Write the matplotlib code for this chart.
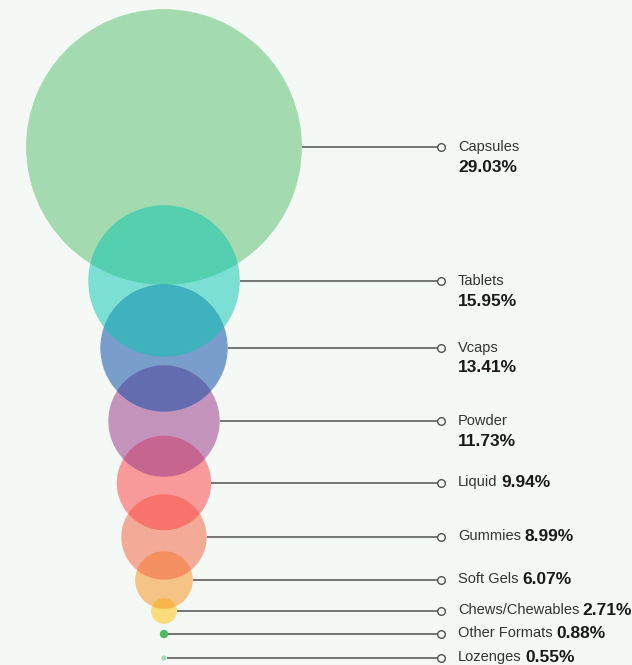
import matplotlib
matplotlib.use("Agg")
import matplotlib.pyplot as plt
from matplotlib.patches import Circle

# data (share in %)
formats = ["Capsules", "Tablets", "Vcaps", "Powder", "Liquid", "Gummies",
           "Soft Gels", "Chews/Chewables", "Other Formats", "Lozenges"]
shares = [29.03, 15.95, 13.41, 11.73, 9.94, 8.99, 6.07, 2.71, 0.88, 0.55]

# layout / style
row_y = [147, 281, 348, 421, 483, 537, 580, 611, 634, 658]
colors = ["#55bd6c", "#05c7b2", "#0145a2", "#953186", "#fd3d40", "#f35f3a",
          "#f78f1a", "#ffc300", "#4cbb5c", "#55bd6c"]
alphas = [0.5] * 8 + [1.0, 0.5]
stacked = [True, True, True, True] + [False] * 6
px_per_pct = 4.75
cx = 164
mark_x = 441
text_x = 458
bg = "#f5f9f6"

plt.rcParams["font.family"] = ["Liberation Sans", "DejaVu Sans"]

fig = plt.figure(figsize=(6.32, 6.65), dpi=100, facecolor=bg)
ax = fig.add_axes([0, 0, 1, 1])
ax.set_facecolor(bg)
ax.set_xlim(0, 632)
ax.set_ylim(665, 0)
ax.axis("off")

# capsules at the back, then bigger circles over smaller ones
n = len(shares)
for i in range(n):
    r = shares[i] * px_per_pct
    z = 1 if i == 0 else 2 + (n - i)
    ax.add_patch(Circle((cx, row_y[i]), r, facecolor=colors[i],
                        alpha=alphas[i], edgecolor="none", zorder=z))

for i in range(n):
    r = shares[i] * px_per_pct
    y = row_y[i]
    ax.plot([cx + r, mark_x - 3], [y, y], color="#505050", lw=1.1, zorder=20,
            solid_capstyle="butt")
    ax.plot(mark_x, y, marker="o", ms=5.5, mfc=bg, mec="#505050", mew=1.0,
            zorder=21)
    pct = f"{shares[i]:.2f}%"
    if stacked[i]:
        ax.text(text_x, y, formats[i], fontsize=10.5, color="#333333",
                va="center", ha="left")
        ax.text(text_x, y + 20, pct, fontsize=12.5, color="#1a1a1a",
                fontweight="bold", va="center", ha="left")
    else:
        t = ax.text(text_x, y - 1, formats[i], fontsize=10.5, color="#333333",
                    va="center", ha="left")
        ax.annotate(pct, xy=(1, 0), xycoords=t, xytext=(2.5, -0.5),
                    textcoords="offset points", fontsize=12.5,
                    color="#1a1a1a", fontweight="bold", va="bottom",
                    ha="left")

fig.savefig("out.png", dpi=100, facecolor=bg)
